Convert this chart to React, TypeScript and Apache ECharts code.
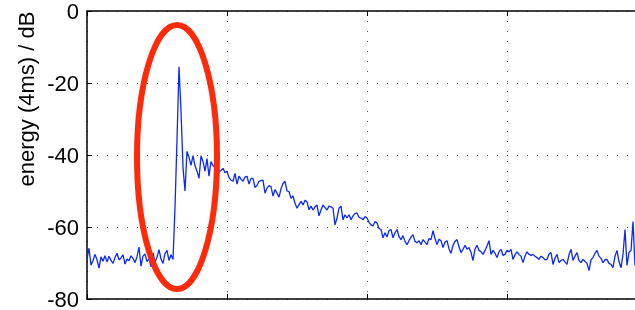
import React, { useEffect, useRef } from "react";
import * as echarts from "echarts";

// y axis ticks (dB)
const yTicks = [0, -20, -40, -60, -80];
const yTitle = "energy (4ms) / dB";

// energy per 4 ms frame, in dB
const preOnset = [
  -68.9, -65.9, -70.6, -69.3, -67.6, -69.1, -71.4, -68.3, -69.5, -68.0,
  -69.7, -68.1, -69.3, -70.1, -68.5, -67.3, -69.1, -68.6, -67.7, -70.3,
  -68.9, -69.4, -68.0, -68.7, -69.9, -68.3, -65.6, -70.9, -68.1, -67.5,
  -69.6, -68.8, -71.1, -67.2, -69.7, -68.4, -66.3, -68.9, -70.1, -67.4,
  -66.5, -69.3, -67.7, -69.0,
];
const onset = [-54.5, -35.8, -15.5, -27.8, -43.5, -50.0];
const earlyDecay = [
  -39.0, -40.6, -42.9, -40.2, -43.0, -44.5, -46.5, -40.2, -41.8, -44.5,
  -41.0, -45.9, -41.8, -42.9, -43.5, -43.7, -44.7, -44.3, -43.7, -44.9,
  -44.5, -46.3, -47.0, -47.3, -45.1, -48.1, -45.9, -46.7, -47.3, -46.1,
  -45.9, -48.1, -46.5, -46.5, -49.0, -48.5, -47.3,
];
const midDecay = [
  -47.1, -47.0, -50.6, -49.2, -48.5, -48.8, -51.4, -49.6, -50.6, -51.7,
  -49.4, -47.9, -47.3, -50.0, -50.2, -52.0, -51.4, -53.4, -54.8, -53.8,
  -52.9, -53.9, -52.6, -53.0, -55.2, -54.2, -55.3, -54.4, -53.9, -56.9,
  -55.3, -53.9, -54.6, -55.3, -54.2, -54.4, -54.8, -59.4, -57.5, -54.8,
  -54.2, -58.0, -56.6, -57.5, -56.6, -58.0, -56.9, -56.3, -56.1, -57.3,
  -57.5, -58.0, -57.1, -57.5, -58.7, -59.4, -59.7, -58.5, -58.9, -60.4,
  -60.7, -63.0, -61.6, -62.8, -61.0, -60.7, -63.0, -61.6, -60.7, -62.7,
  -63.5, -62.4, -64.0, -64.9, -63.8,
];
const lateDecay = [
  -62.8, -62.1, -64.0, -64.4, -63.8, -64.9, -63.5, -64.2, -64.9, -63.2,
  -63.5, -61.0, -63.2, -64.9, -63.4, -63.8, -65.7, -64.2, -63.8, -66.1,
  -67.3, -65.1, -64.0, -63.5, -65.5, -67.1, -66.2, -65.1, -66.2, -65.7,
  -67.1, -69.3, -66.1, -65.1, -66.5, -66.9, -67.6, -66.5, -65.3, -63.8,
  -67.6, -66.5, -67.3, -68.5, -66.9, -66.2, -67.9, -67.6, -66.5, -66.9,
  -66.2, -69.0, -67.7, -66.9, -67.6, -68.1, -69.9, -68.1, -66.9, -67.6,
];
const tail = [
  -67.9, -67.6, -68.1, -68.5, -69.0, -68.1, -68.5, -69.1, -69.0, -67.5,
  -67.1, -70.4, -68.6, -67.6, -69.9, -69.3, -69.0, -69.7, -70.4, -67.7,
  -66.2, -69.3, -68.1, -67.1, -69.3, -69.9, -69.0, -69.5, -70.1, -72.1,
  -69.1, -68.5, -67.3, -66.5, -68.1, -68.7, -69.9, -69.1, -69.0, -70.1,
  -70.4, -71.3, -68.1, -66.5, -69.6, -71.3, -67.6, -60.7, -70.7, -67.1,
  -66.5, -58.5, -70.7,
];

const energyDb = [...preOnset, ...onset, ...earlyDecay, ...midDecay, ...lateDecay, ...tail];

// x axis in frames
const X_MIN = 0;
const X_MAX = 280;
const X_GRID = 70;

export default function App() {
  const ref = useRef<HTMLDivElement>(null);

  useEffect(() => {
    const chart = echarts.init(ref.current!, null, { renderer: "svg" });
    const font = "'Liberation Sans', Arial, Helvetica, sans-serif";
    const axisLine = { show: true, onZero: false, lineStyle: { color: "#000", width: 1.5 } };
    const tick = { show: true, inside: true, length: 5, lineStyle: { color: "#000", width: 1 } };
    const dotted = { show: true, lineStyle: { color: "#555", width: 1, type: [1, 9] } };

    chart.setOption({
      animation: false,
      grid: { left: 87, right: 0, top: 11, bottom: 8, show: false },
      xAxis: [
        {
          type: "value", min: X_MIN, max: X_MAX, interval: X_GRID, position: "bottom",
          axisLine, axisTick: tick, axisLabel: { show: false }, splitLine: dotted,
        },
        {
          type: "value", min: X_MIN, max: X_MAX, interval: X_GRID, position: "top",
          axisLine, axisTick: tick, axisLabel: { show: false }, splitLine: { show: false },
        },
      ],
      yAxis: [
        {
          type: "value", min: yTicks[yTicks.length - 1], max: yTicks[0], interval: 20,
          axisLine, axisTick: tick,
          axisLabel: { color: "#000", fontSize: 22, fontFamily: font, margin: 8 },
          splitLine: dotted,
        },
      ],
      series: [
        {
          type: "line",
          data: energyDb.map((v, i) => [i, v]),
          showSymbol: false,
          symbol: "none",
          lineStyle: { color: "#0a28ff", width: 1.3 },
          z: 3,
        },
      ],
      graphic: [
        {
          type: "text",
          x: 26,
          y: 99,
          rotation: Math.PI / 2,
          style: {
            text: yTitle,
            fontSize: 22,
            fontFamily: font,
            fill: "#000",
            align: "center",
            verticalAlign: "middle",
          },
        },
        {
          type: "ellipse",
          shape: { cx: 177, cy: 157, rx: 40, ry: 132 },
          style: { fill: "transparent", stroke: "#ff2a0a", lineWidth: 6 },
          z: 100,
        },
      ],
    });
    return () => chart.dispose();
  }, []);

  return (
    <div
      style={{ position: "fixed", left: 0, top: 0, width: 635, height: 310, overflow: "hidden" }}
    >
      <div ref={ref} style={{ width: 647, height: 310 }} />
    </div>
  );
}
